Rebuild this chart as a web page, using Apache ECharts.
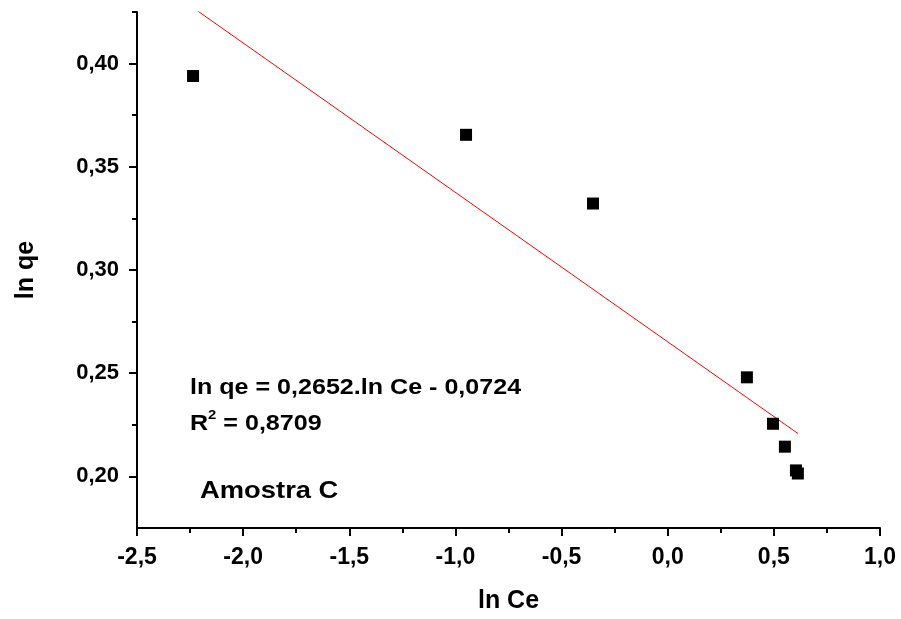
<!DOCTYPE html>
<html>
<head>
<meta charset="utf-8">
<script src="https://cdn.jsdelivr.net/npm/echarts@6/dist/echarts.min.js"></script>
<style>html,body{margin:0;padding:0;background:#fff}#c{width:901px;height:619px}</style>
</head>
<body>
<div id="c"></div>
<script>
// Data
const lnCe = [-2.236, -0.95, -0.352, 0.373, 0.496, 0.552, 0.604, 0.613];
const lnQe = [0.394, 0.3655, 0.3322, 0.248, 0.2255, 0.2144, 0.2029, 0.2014];
const fitSlope = -0.0724;
const fitIntercept = 0.2652;
const xTicks = [-2.5, -2.0, -1.5, -1.0, -0.5, 0.0, 0.5, 1.0];
const yTicks = [0.20, 0.25, 0.30, 0.35, 0.40];
const yMinorTicks = [0.225, 0.275, 0.325, 0.375, 0.425];
const eqText = 'ln qe = 0,2652.ln Ce - 0,0724';
const r2Text = ' = 0,8709';
const sampleText = 'Amostra C';

const FONT = '"Liberation Sans", Arial, sans-serif';
const points = lnCe.map((x, i) => [x, lnQe[i]]);
const xMin = Math.min(...lnCe), xMax = Math.max(...lnCe);
const fitLine = [[xMin, fitIntercept + fitSlope * xMin], [xMax, fitIntercept + fitSlope * xMax]];

const chart = echarts.init(document.getElementById('c'), null, {renderer: 'canvas'});
const axisCol = '#000';
chart.setOption({
  animation: false,
  backgroundColor: '#fff',
  grid: {left: 137, right: 21, top: 12, bottom: 89, containLabel: false},
  xAxis: {
    type: 'value', min: xTicks[0], max: xTicks[xTicks.length - 1], interval: 0.5,
    name: 'ln Ce', nameLocation: 'middle', nameGap: 61,
    nameTextStyle: {fontFamily: FONT, fontWeight: 'bold', fontSize: 25, color: '#000'},
    axisLine: {onZero: false, lineStyle: {color: axisCol, width: 2}},
    axisTick: {inside: false, length: 8, lineStyle: {color: axisCol, width: 2}},
    minorTick: {show: true, splitNumber: 2, length: 5, lineStyle: {color: axisCol, width: 2}},
    splitLine: {show: false},
    axisLabel: {margin: 18, fontFamily: FONT, fontWeight: 'bold', fontSize: 23, color: '#000',
      formatter: v => v.toFixed(1).replace('.', ',')}
  },
  yAxis: [{
    type: 'value', min: 0.175, max: 0.425,
    name: 'ln qe', nameLocation: 'middle', nameGap: 98, nameRotate: 90,
    nameTextStyle: {fontFamily: FONT, fontWeight: 'bold', fontSize: 25, color: '#000'},
    axisLine: {onZero: false, lineStyle: {color: axisCol, width: 2}},
    axisTick: {inside: false, length: 8, customValues: yTicks, lineStyle: {color: axisCol, width: 2}},
    splitLine: {show: false},
    axisLabel: {margin: 18, customValues: yTicks, fontFamily: FONT, fontWeight: 'bold', fontSize: 22, color: '#000',
      formatter: v => v.toFixed(2).replace('.', ',')}
  }, {
    type: 'value', min: 0.175, max: 0.425, position: 'left',
    axisLine: {show: false, onZero: false},
    axisTick: {show: true, inside: false, length: 5, customValues: yMinorTicks, lineStyle: {color: axisCol, width: 2}},
    axisLabel: {show: false},
    splitLine: {show: false}
  }],
  series: [{
    type: 'line', data: fitLine, showSymbol: false, symbol: 'none', clip: true,
    lineStyle: {color: '#ff0000', width: 1}, z: 2
  }, {
    type: 'scatter', data: points, symbol: 'rect', symbolSize: 12,
    itemStyle: {color: '#000', opacity: 1}, z: 3
  }],
  graphic: [{
    type: 'text', left: 190, top: 377, scaleX: 1.14,
    style: {text: eqText, fontFamily: FONT, fontWeight: 'bold', fontSize: 22, fill: '#000'}
  }, {
    type: 'text', left: 190, top: 409, scaleX: 1.14,
    style: {
      text: '{a|R}{s|2}{a|' + r2Text + '}',
      rich: {
        a: {fontFamily: FONT, fontWeight: 'bold', fontSize: 22, fill: '#000', verticalAlign: 'bottom', lineHeight: 26},
        s: {fontFamily: FONT, fontWeight: 'bold', fontSize: 13, fill: '#000', verticalAlign: 'top', lineHeight: 26, padding: [0, 0, 10, 0]}
      }
    }
  }, {
    type: 'text', left: 200, top: 479, scaleX: 1.14,
    style: {text: sampleText, fontFamily: FONT, fontWeight: 'bold', fontSize: 24, fill: '#000'}
  }]
});
</script>
</body>
</html>
